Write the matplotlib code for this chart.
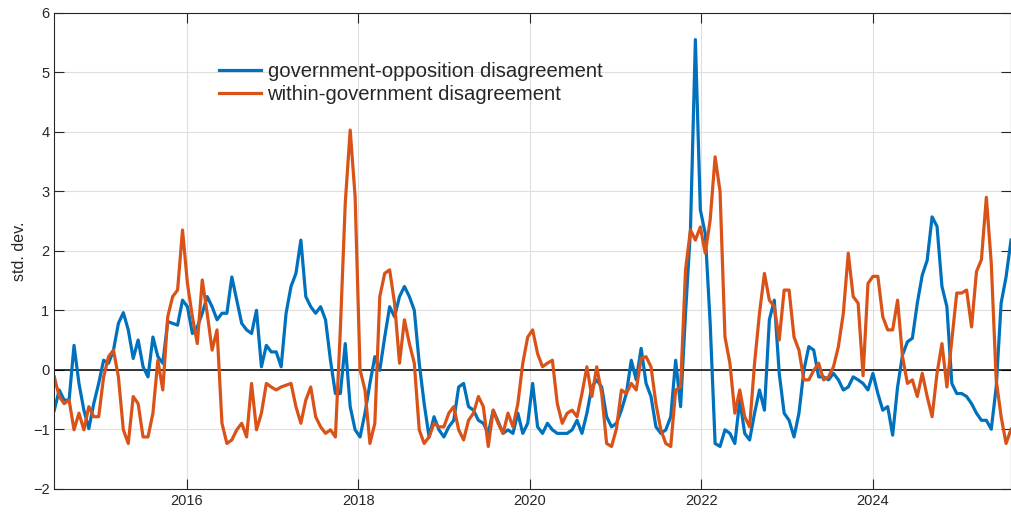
import matplotlib
matplotlib.use("Agg")
import matplotlib.pyplot as plt
import matplotlib.dates as mdates
import pandas as pd

plt.rcParams['font.family'] = ['Liberation Sans', 'DejaVu Sans']

# values, one every 3 weeks from mid-June 2014
gov_opp = [
    -0.68, -0.34, -0.51, -0.51, 0.41, -0.23, -0.68, -0.99, -0.57, -0.23,
    0.16, 0.11, 0.33, 0.78, 0.96, 0.67, 0.19, 0.50, 0.05, -0.12,
    0.55, 0.22, 0.11, 0.81, 0.78, 0.75, 1.17, 1.06, 0.61, 0.72,
    0.95, 1.23, 1.06, 0.84, 0.95, 0.95, 1.56, 1.17, 0.78, 0.67,
    0.61, 1.00, 0.05, 0.41, 0.30, 0.30, 0.05, 0.95, 1.40, 1.62,
    2.18, 1.23, 1.06, 0.95, 1.06, 0.84, 0.16, -0.40, -0.40, 0.44,
    -0.62, -1.01, -1.13, -0.73, -0.23, 0.22, -0.01, 0.55, 1.06, 0.89,
    1.23, 1.40, 1.23, 1.00, 0.11, -0.57, -1.13, -0.79, -1.01, -1.13,
    -0.96, -0.85, -0.29, -0.23, -0.62, -0.68, -0.85, -0.90, -1.07, -0.68,
    -0.87, -1.07, -1.01, -1.07, -0.73, -1.07, -0.90, -0.23, -0.96, -1.07,
    -0.90, -1.01, -1.07, -1.07, -1.07, -1.01, -0.85, -1.07, -0.73, -0.29,
    -0.17, -0.29, -0.79, -0.96, -0.90, -0.68, -0.40, 0.16, -0.17, 0.36,
    -0.23, -0.45, -0.96, -1.07, -1.01, -0.79, 0.16, -0.62, 0.95, 2.35,
    5.55, 2.69, 2.29, 0.78, -1.24, -1.29, -1.01, -1.07, -1.24, -0.51,
    -1.07, -1.18, -0.73, -0.34, -0.68, 0.84, 1.17, -0.06, -0.73, -0.85,
    -1.13, -0.73, -0.01, 0.39, 0.33, -0.12, -0.12, -0.17, -0.06, -0.17,
    -0.34, -0.29, -0.12, -0.17, -0.23, -0.34, -0.06, -0.40, -0.68, -0.62,
    -1.10, -0.29, 0.25, 0.47, 0.53, 1.12, 1.59, 1.84, 2.57, 2.41,
    1.40, 1.06, -0.23, -0.40, -0.40, -0.45, -0.57, -0.73, -0.85, -0.85,
    -1.00, -0.29, 1.12, 1.56, 2.18,
]
within_gov = [
    -0.12, -0.45, -0.57, -0.51, -1.01, -0.73, -1.01, -0.62, -0.79, -0.79,
    -0.12, 0.22, 0.33, -0.12, -1.01, -1.24, -0.45, -0.57, -1.13, -1.13,
    -0.73, 0.16, -0.34, 0.89, 1.23, 1.34, 2.35, 1.45, 0.89, 0.44,
    1.51, 0.95, 0.33, 0.67, -0.90, -1.24, -1.18, -1.01, -0.90, -1.13,
    -0.23, -1.01, -0.73, -0.23, -0.29, -0.34, -0.29, -0.26, -0.23, -0.62,
    -0.90, -0.51, -0.29, -0.79, -0.96, -1.07, -1.01, -1.13, 0.67, 2.80,
    4.03, 2.91, 0.00, -0.34, -1.24, -0.90, 1.23, 1.62, 1.68, 1.12,
    0.11, 0.84, 0.44, 0.11, -1.01, -1.24, -1.13, -0.90, -0.96, -0.96,
    -0.73, -0.62, -1.01, -1.18, -0.85, -0.73, -0.45, -0.62, -1.29, -0.68,
    -0.90, -1.07, -0.73, -0.96, -0.57, 0.11, 0.55, 0.67, 0.27, 0.05,
    0.11, 0.16, -0.57, -0.90, -0.73, -0.68, -0.79, -0.40, 0.05, -0.45,
    0.05, -0.40, -1.24, -1.29, -0.99, -0.34, -0.40, -0.23, -0.34, 0.19,
    0.22, 0.05, -0.57, -1.01, -1.24, -1.29, -0.34, -0.29, 1.68, 2.35,
    2.18, 2.40, 1.96, 2.52, 3.58, 3.00, 0.55, 0.11, -0.73, -0.34,
    -0.79, -0.96, 0.11, 0.95, 1.62, 1.17, 1.06, 0.50, 1.34, 1.34,
    0.55, 0.33, -0.17, -0.17, -0.01, 0.11, -0.17, -0.12, 0.05, 0.39,
    0.95, 1.96, 1.23, 1.12, -0.10, 1.45, 1.57, 1.57, 0.89, 0.67,
    0.67, 1.17, 0.22, -0.23, -0.17, -0.45, -0.06, -0.45, -0.79, -0.06,
    0.44, -0.29, 0.50, 1.29, 1.29, 1.34, 0.72, 1.65, 1.85, 2.90,
    1.79, -0.17, -0.79, -1.24, -1.00,
]
labels = ['government-opposition disagreement', 'within-government disagreement']
dates = pd.date_range('2014-06-16', periods=len(gov_opp), freq='21D')

dark = '#262626'
fig = plt.figure(figsize=(10.12, 5.15), dpi=100)
ax = fig.add_axes([54.3/1012, 1-488.7/515, (1011-54.3)/1012, (488.7-12.9)/515])

ax.plot(dates, gov_opp, color='#0072BD', lw=2.3, label=labels[0])
ax.plot(dates, within_gov, color='#D95319', lw=2.3, label=labels[1])
ax.axhline(0, color='k', lw=1.1, zorder=1)

ax.set_xlim(dates[0], dates[-1])
ax.set_ylim(-2, 6)
ax.set_yticks(range(-2, 7))
ax.xaxis.set_major_locator(mdates.YearLocator(2))
ax.xaxis.set_major_formatter(mdates.DateFormatter('%Y'))
ax.grid(True, color='#dfdfdf', lw=0.8)
ax.set_axisbelow(True)
ax.tick_params(direction='in', length=7, top=True, right=True, labelsize=10.5,
               color=dark, labelcolor=dark, width=0.8)
for s in ax.spines.values():
    s.set_color(dark)
    s.set_linewidth(0.8)
ax.set_ylabel('std. dev.', fontsize=11.5, color=dark, labelpad=4)

ax.legend(loc='upper left', bbox_to_anchor=(0.172, 0.897), frameon=False,
          fontsize=14.6, handlelength=2.1, handletextpad=0.3, borderpad=0,
          borderaxespad=0, labelspacing=0.2, labelcolor=dark)

fig.savefig('out.png', dpi=100)
